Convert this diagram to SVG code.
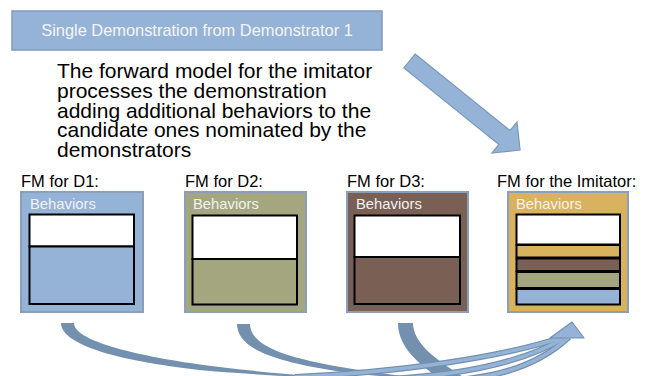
<svg xmlns="http://www.w3.org/2000/svg" width="651" height="376" viewBox="0 0 651 376">
<style>
  .lbl{font-family:"Liberation Sans",Arial,sans-serif;font-size:16.5px;fill:#000}
  .beh{font-family:"Liberation Sans",Arial,sans-serif;font-size:14.8px;fill:#f2f2f2}
  .outer{stroke:#8ba0b8;stroke-width:2}
  .inner{stroke:#000;stroke-width:2}
  .body{font-family:"Liberation Sans",Arial,sans-serif;font-size:21px;fill:#000}
  .down{fill:#7391ae}
  .upo{fill:none;stroke:#7391ae;stroke-width:6;stroke-linecap:butt}
  .upi{fill:none;stroke:#95b3d7;stroke-width:3.6;stroke-linecap:butt}
</style>
<rect width="651" height="376" fill="#ffffff"/>

<g id="title">
  <rect x="12" y="11" width="370" height="39" fill="#95b3d7" stroke="#7f9cbd" stroke-width="1.5"/>
  <text x="197" y="36" text-anchor="middle" font-family="Liberation Sans, Arial, sans-serif" font-size="16.4" fill="#f5f5f5">Single Demonstration from Demonstrator 1</text>
</g>

<g id="description">
  <text class="body" x="57" y="78">The forward model for the imitator</text>
  <text class="body" x="57" y="98">processes the demonstration</text>
  <text class="body" x="57" y="118">adding additional behaviors to the</text>
  <text class="body" x="57" y="137">candidate ones nominated by the</text>
  <text class="body" x="57" y="157">demonstrators</text>
</g>

<g id="big-arrow">
  <polygon points="415.1,54 510.1,130.5 517,121.9 520.1,150 492,153.1 498.9,144.5 403.9,68" fill="#95b3d7" stroke="#7a98bb" stroke-width="1.2"/>
</g>

<g id="fm-d1">
  <text class="lbl" x="21" y="187">FM for D1:</text>
  <rect class="outer" x="21" y="192" width="122" height="120" fill="#95b3d7"/>
  <text class="beh" x="30" y="209">Behaviors</text>
  <rect class="inner" x="29.5" y="214.5" width="104.5" height="32" fill="#ffffff"/>
  <rect class="inner" x="29.5" y="246.5" width="104.5" height="57.5" fill="#95b3d7"/>
</g>

<g id="fm-d2">
  <text class="lbl" x="185" y="187">FM for D2:</text>
  <rect class="outer" x="185" y="192" width="121" height="120" fill="#a3a67f"/>
  <text class="beh" x="193" y="209">Behaviors</text>
  <rect class="inner" x="192.5" y="215.5" width="104.5" height="43.5" fill="#ffffff"/>
  <rect class="inner" x="192.5" y="259" width="104.5" height="45.5" fill="#a3a67f"/>
</g>

<g id="fm-d3">
  <text class="lbl" x="347" y="187">FM for D3:</text>
  <rect class="outer" x="347" y="192" width="121" height="120" fill="#7a5f55"/>
  <text class="beh" x="356" y="209">Behaviors</text>
  <rect class="inner" x="354.5" y="215.5" width="105.5" height="41.5" fill="#ffffff"/>
  <rect class="inner" x="354.5" y="257" width="105.5" height="47" fill="#7a5f55"/>
</g>

<g id="fm-imitator">
  <text class="lbl" x="497" y="187">FM for the Imitator:</text>
  <rect class="outer" x="508" y="192" width="120" height="120" fill="#d9b25e"/>
  <text class="beh" x="516" y="209">Behaviors</text>
  <rect class="inner" x="516.5" y="214.5" width="103.5" height="30" fill="#ffffff"/>
  <rect class="inner" x="516.5" y="245" width="103.5" height="12.5" fill="#d9b25e"/>
  <rect class="inner" x="516.5" y="258.5" width="103.5" height="12.5" fill="#7a5f55"/>
  <rect class="inner" x="516.5" y="272" width="103.5" height="16" fill="#a3a67f"/>
  <rect class="inner" x="516.5" y="289" width="103.5" height="15.5" fill="#95b3d7"/>
</g>

<g id="connectors">
  <path class="down" d="M61 323 C61 345 120 362 210 371 C260 375 300 377 330 378 L330 377 C280 374 230 369 190 363 C130 354 74 340 74 323 Z"/>
  <path class="down" d="M237 324 C237 350 280 362 330 370 C360 375 390 377 410 378 L410 377 C380 373 340 368 310 361 C270 352 250 340 250 324 Z"/>
  <path class="down" d="M398 323 C398 345 415 362 442 380 L468 380 C440 362 413 345 413 323 Z"/>
  <path class="upo" d="M295 377 C400 372 500 358 563 337"/>
  <path class="upo" d="M390 379 C460 375 525 362 566 337"/>
  <path class="upo" d="M455 380 C500 377 540 364 569 337"/>
  <path class="upi" d="M295 377 C400 372 500 358 563 337"/>
  <path class="upi" d="M390 379 C460 375 525 362 566 337"/>
  <path class="upi" d="M455 380 C500 377 540 364 569 337"/>
  <polygon points="550,338 572,322 584,338" fill="#95b3d7" stroke="#7391ae" stroke-width="1.2" stroke-linejoin="round"/>
</g>
</svg>
